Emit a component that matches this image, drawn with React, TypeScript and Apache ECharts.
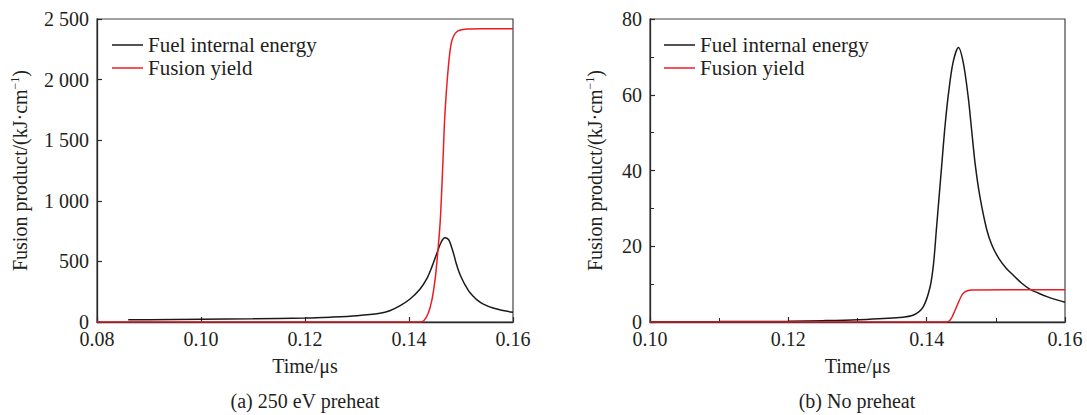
import React, { useEffect, useRef } from "react";
import * as echarts from "echarts";

// ---- Data: (a) 250 eV preheat ----
const T_A_FUEL = [0.086, 0.09, 0.10, 0.11, 0.12, 0.125, 0.13, 0.1344, 0.1363, 0.1383, 0.1402, 0.1421, 0.1434, 0.1444, 0.1453, 0.1462, 0.1469, 0.1476, 0.1481, 0.1486, 0.1491, 0.1496, 0.1502, 0.1508, 0.1515, 0.1523, 0.153, 0.1543, 0.1562, 0.1581, 0.16];
const V_A_FUEL = [18, 19, 22, 26, 32, 40, 52, 72, 93, 135, 190, 270, 355, 455, 560, 660, 695, 680, 630, 560, 480, 415, 355, 305, 255, 215, 185, 148, 115, 95, 80];
const T_A_YIELD = [0.08, 0.142, 0.1428, 0.1437, 0.1444, 0.145, 0.1454, 0.146, 0.1465, 0.1469, 0.1476, 0.1482, 0.1492, 0.1511, 0.154, 0.16];
const V_A_YIELD = [0, 0, 8, 72, 181, 346, 511, 828, 1295, 1708, 2120, 2313, 2395, 2417, 2420, 2420];

// ---- Data: (b) No preheat ----
const T_B_FUEL = [0.10, 0.11, 0.12, 0.125, 0.13, 0.1361, 0.1381, 0.1395, 0.1405, 0.141, 0.1414, 0.1418, 0.1422, 0.1426, 0.1431, 0.1438, 0.1446, 0.1453, 0.146, 0.1465, 0.147, 0.1477, 0.1487, 0.1495, 0.1505, 0.1515, 0.1525, 0.1537, 0.1549, 0.1562, 0.1574, 0.1587, 0.16];
const V_B_FUEL = [0.05, 0.1, 0.2, 0.35, 0.6, 1.2, 1.85, 4.0, 9.3, 15.5, 24.3, 33.1, 41.9, 50.7, 59.5, 68.4, 72.5, 68.4, 59.5, 50.7, 41.9, 33.1, 24.3, 20.0, 16.6, 14.2, 12.4, 10.3, 8.7, 7.6, 6.7, 5.9, 5.2];
const T_B_YIELD = [0.10, 0.1429, 0.1434, 0.1438, 0.1442, 0.1446, 0.145, 0.1453, 0.1458, 0.1465, 0.16];
const V_B_YIELD = [0, 0, 0.5, 1.8, 3.5, 5.2, 6.8, 7.6, 8.2, 8.45, 8.5];

const X_TICKS_A = [0.08, 0.16, 0.02];
const X_TICKS_B = [0.10, 0.16, 0.02];
const Y_TICKS_A = [0, 2500, 500];
const Y_TICKS_B = [0, 80, 20];

const NAME_FUEL = "Fuel internal energy";
const NAME_YIELD = "Fusion yield";
const X_NAME = "Time/μs";
const Y_NAME = "Fusion product/(kJ·cm{sup|−1})";
const CAPTION_A = "(a) 250 eV preheat";
const CAPTION_B = "(b) No preheat";

const FONT = "Liberation Serif";
const TXT = "#231f20";
const AX = "#2a2a2a";
const BLACK = "#1a1a1a";
const RED = "#ec1c24";

const pairs = (t: number[], v: number[]) => t.map((x, i) => [x, v[i]]);

const fmtThousands = (v: number) => {
  const s = String(Math.round(v));
  return s.length > 3 ? s.slice(0, s.length - 3) + " " + s.slice(-3) : s;
};

function xAxis(gridIndex: number, ticks: number[], minor: boolean) {
  return {
    type: "value",
    gridIndex,
    min: ticks[0],
    max: ticks[1],
    interval: ticks[2],
    name: X_NAME,
    nameLocation: "middle",
    nameGap: 34,
    nameTextStyle: { fontFamily: FONT, fontSize: 20, color: TXT },
    axisLine: { show: true, onZero: false, lineStyle: { color: AX, width: 1.3 } },
    axisTick: { show: true, inside: true, length: 5, lineStyle: { color: AX, width: 1.2 } },
    minorTick: { show: minor, splitNumber: 2, length: 4, lineStyle: { color: AX, width: 1 } },
    axisLabel: {
      margin: 10,
      lineHeight: 14,
      fontFamily: FONT,
      fontSize: 20,
      color: TXT,
      formatter: (v: number) => v.toFixed(2),
    },
    splitLine: { show: false },
  };
}

function yAxis(gridIndex: number, ticks: number[], minor: boolean, gap: number, thousands: boolean) {
  return {
    type: "value",
    gridIndex,
    min: ticks[0],
    max: ticks[1],
    interval: ticks[2],
    name: Y_NAME,
    nameLocation: "middle",
    nameRotate: 90,
    nameGap: gap,
    nameTextStyle: {
      fontFamily: FONT,
      fontSize: 20,
      color: TXT,
      rich: {
        sup: { fontFamily: FONT, fontSize: 12, color: TXT, padding: [0, 0, 10, 0] },
      },
    },
    axisLine: { show: true, onZero: false, lineStyle: { color: AX, width: 1.3 } },
    axisTick: { show: true, inside: true, length: 5, lineStyle: { color: AX, width: 1.2 } },
    minorTick: { show: minor, splitNumber: 2, length: 4, lineStyle: { color: AX, width: 1 } },
    axisLabel: {
      margin: 8,
      lineHeight: 14,
      fontFamily: FONT,
      fontSize: 20,
      color: TXT,
      formatter: (v: number) => (thousands ? fmtThousands(v) : String(v)),
    },
    splitLine: { show: false },
  };
}

function line(name: string, data: number[][], color: string, idx: number) {
  return {
    type: "line",
    name,
    xAxisIndex: idx,
    yAxisIndex: idx,
    data,
    symbol: "none",
    smooth: 0.3,
    lineStyle: { color, width: 1.5 },
    itemStyle: { color },
    clip: true,
  };
}

function legend(left: number) {
  return {
    left,
    top: 34,
    orient: "vertical",
    padding: 0,
    itemGap: 1,
    icon: "rect",
    itemWidth: 31,
    itemHeight: 1.5,
    selectedMode: false,
    data: [NAME_FUEL, NAME_YIELD],
    textStyle: { fontFamily: FONT, fontSize: 21, color: TXT, lineHeight: 22 },
  };
}

export default function App() {
  const ref = useRef<HTMLDivElement>(null);
  useEffect(() => {
    if (!ref.current) return;
    const chart = echarts.init(ref.current, undefined, { renderer: "svg" });
    chart.setOption({
      animation: false,
      backgroundColor: "#ffffff",
      textStyle: { fontFamily: FONT },
      grid: [
        { left: 97, right: 574, top: 19, bottom: 93, show: true, borderColor: "#444", borderWidth: 1.2, backgroundColor: "transparent" },
        { left: 650, right: 22, top: 19, bottom: 93, show: true, borderColor: "#444", borderWidth: 1.2, backgroundColor: "transparent" },
      ],
      xAxis: [xAxis(0, X_TICKS_A, false), xAxis(1, X_TICKS_B, true)],
      yAxis: [yAxis(0, Y_TICKS_A, false, 66, true), yAxis(1, Y_TICKS_B, true, 44, false)],
      legend: [legend(112), legend(664)],
      series: [
        line(NAME_FUEL, pairs(T_A_FUEL, V_A_FUEL), BLACK, 0),
        line(NAME_YIELD, pairs(T_A_YIELD, V_A_YIELD), RED, 0),
        line(NAME_FUEL, pairs(T_B_FUEL, V_B_FUEL), BLACK, 1),
        line(NAME_YIELD, pairs(T_B_YIELD, V_B_YIELD), RED, 1),
      ],
      graphic: [
        { type: "text", x: 305, y: 401, style: { text: CAPTION_A, fontFamily: FONT, fontSize: 20, fill: TXT, textAlign: "center", textVerticalAlign: "middle" } },
        { type: "text", x: 857, y: 401, style: { text: CAPTION_B, fontFamily: FONT, fontSize: 20, fill: TXT, textAlign: "center", textVerticalAlign: "middle" } },
      ],
    });
    return () => chart.dispose();
  }, []);
  return <div ref={ref} style={{ position: "fixed", left: 0, top: 0, width: 1087, height: 415 }} />;
}
